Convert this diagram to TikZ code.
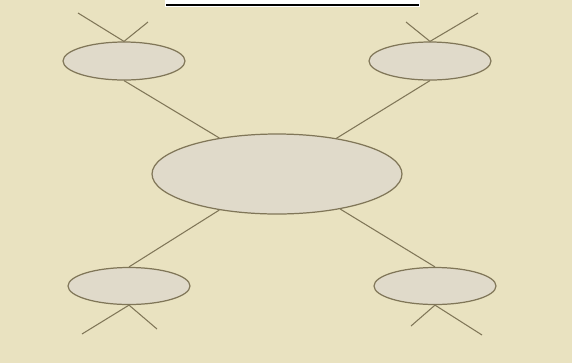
\documentclass[tikz,border=0pt]{standalone}
\usepackage{tikz}
\usetikzlibrary{shapes.geometric}
\definecolor{paper}{RGB}{233,226,192}
\definecolor{bubblefill}{RGB}{224,218,202}
\definecolor{bubbleline}{RGB}{128,118,88}
\tikzset{
  bubble/.style={ellipse, draw=bubbleline, fill=bubblefill, line width=0.7pt, inner sep=0pt},
  spoke/.style={draw=bubbleline, line width=0.6pt}
}

\begin{document}
\begin{tikzpicture}[x=0.02cm, y=-0.02cm]
    \fill[paper] (0,0) rectangle (572,363);
    \useasboundingbox (0,0) rectangle (572,363);
    \fill[white] (165,0) rectangle (420,7);
    \draw[line width=1.4pt] (166,5) -- (419,5);
    \node[bubble, minimum width=5cm, minimum height=1.6cm] (hub) at (277,174) {};
    \node[bubble, minimum width=2.44cm, minimum height=0.76cm] (tl) at (124,61) {};
    \node[bubble, minimum width=2.44cm, minimum height=0.76cm] (tr) at (430,61) {};
    \node[bubble, minimum width=2.44cm, minimum height=0.74cm] (bl) at (129,286) {};
    \node[bubble, minimum width=2.44cm, minimum height=0.74cm] (br) at (435,286) {};
    \coordinate (tla) at (78,13);
    \coordinate (tlb) at (148,22);
    \coordinate (tra) at (406,22);
    \coordinate (trb) at (478,13);
    \coordinate (bla) at (82,334);
    \coordinate (blb) at (157,329);
    \coordinate (bra) at (411,326);
    \coordinate (brb) at (482,335);
    \draw[spoke] (tl.south) -- (hub.148.6);
    \draw[spoke] (tr.south) -- (hub.31);
    \draw[spoke] (bl.north) -- (hub.212.5);
    \draw[spoke] (br.north) -- (hub.331);
    \draw[spoke] (tla) -- (tl.north) -- (tlb);
    \draw[spoke] (tra) -- (tr.north) -- (trb);
    \draw[spoke] (bla) -- (bl.south) -- (blb);
    \draw[spoke] (bra) -- (br.south) -- (brb);
  \end{tikzpicture}
\end{document}
